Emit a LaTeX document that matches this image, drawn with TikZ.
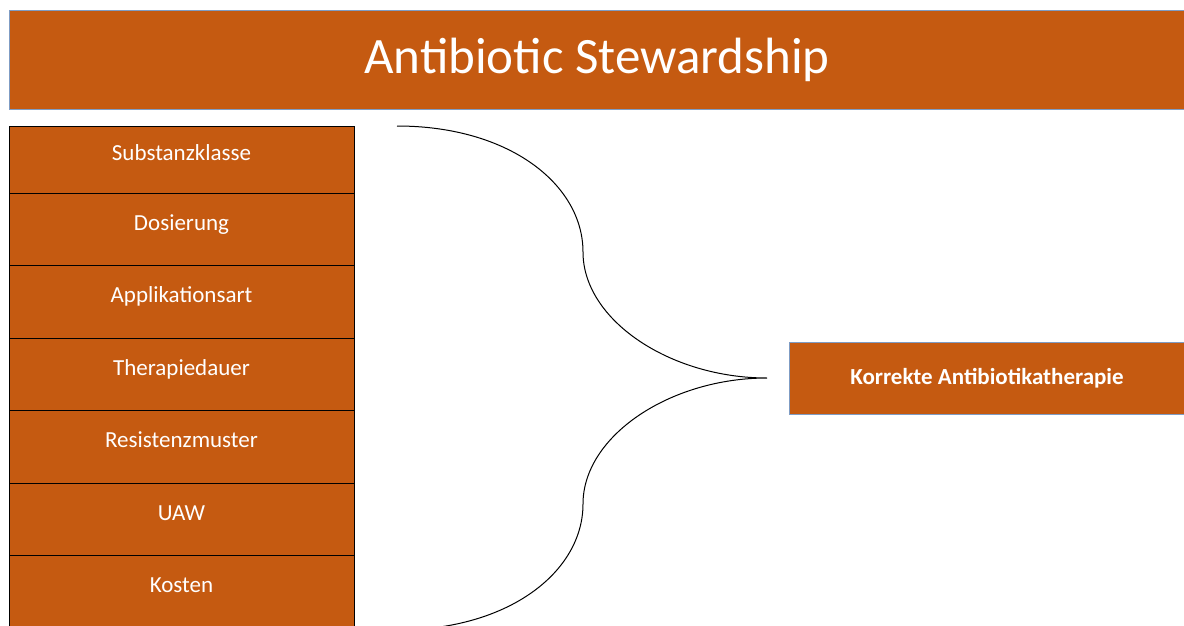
\documentclass[tikz,border=0pt]{standalone}
\usepackage{fontspec}
\setmainfont{Carlito}
\usetikzlibrary{positioning}
\definecolor{abxorange}{HTML}{C55A11}
\definecolor{abxblue}{HTML}{7F9CC4}

\begin{document}
\begin{tikzpicture}[
    x=1pt, y=-1pt,
    node distance=0pt,
    line width=1pt,
    factor/.style={draw=black, fill=abxorange, text=white,
        minimum width=345pt, minimum height=72.5pt, inner sep=0pt, outer sep=0pt,
        text height=16pt, text depth=14pt,
        font=\fontsize{23}{27}\selectfont},
    headline/.style={draw=abxblue, fill=abxorange, text=white,
        minimum width=1176pt, minimum height=98pt, inner sep=0pt, outer sep=0pt,
        font=\fontsize{51}{60}\selectfont},
    result/.style={draw=abxblue, fill=abxorange, text=white,
        minimum width=396pt, minimum height=72pt, inner sep=0pt, outer sep=0pt,
        font=\bfseries\fontsize{23}{27}\selectfont}
]

\useasboundingbox (0,0) rectangle (1184,626);

\node[headline] (title) at (597,60) {\raisebox{-3pt}{Antibiotic Stewardship}};

% Faktoren links
\node[factor, minimum height=67pt] (f1) at (181.5,159.5) {Substanzklasse};
\node[factor] (f2) [below=of f1] {Dosierung};
\node[factor] (f3) [below=of f2] {Applikationsart};
\node[factor] (f4) [below=of f3] {Therapiedauer};
\node[factor] (f5) [below=of f4] {Resistenzmuster};
\node[factor] (f6) [below=of f5] {UAW};
\node[factor] (f7) [below=of f6] {Kosten};

\node[result] (ziel) at (987,378) {Korrekte Antibiotikatherapie};

% Klammer
\coordinate (top) at (397,126);
\coordinate (midtop) at (583,252);
\coordinate (tip) at (767,378);
\coordinate (midbot) at (583,504);
\coordinate (bot) at (397,630);

\draw (top) .. controls (510,126) and (583,185) .. (midtop)
      .. controls (583,320) and (670,378) .. (tip)
      .. controls (670,378) and (583,436) .. (midbot)
      .. controls (583,571) and (510,630) .. (bot);

\end{tikzpicture}
\end{document}
